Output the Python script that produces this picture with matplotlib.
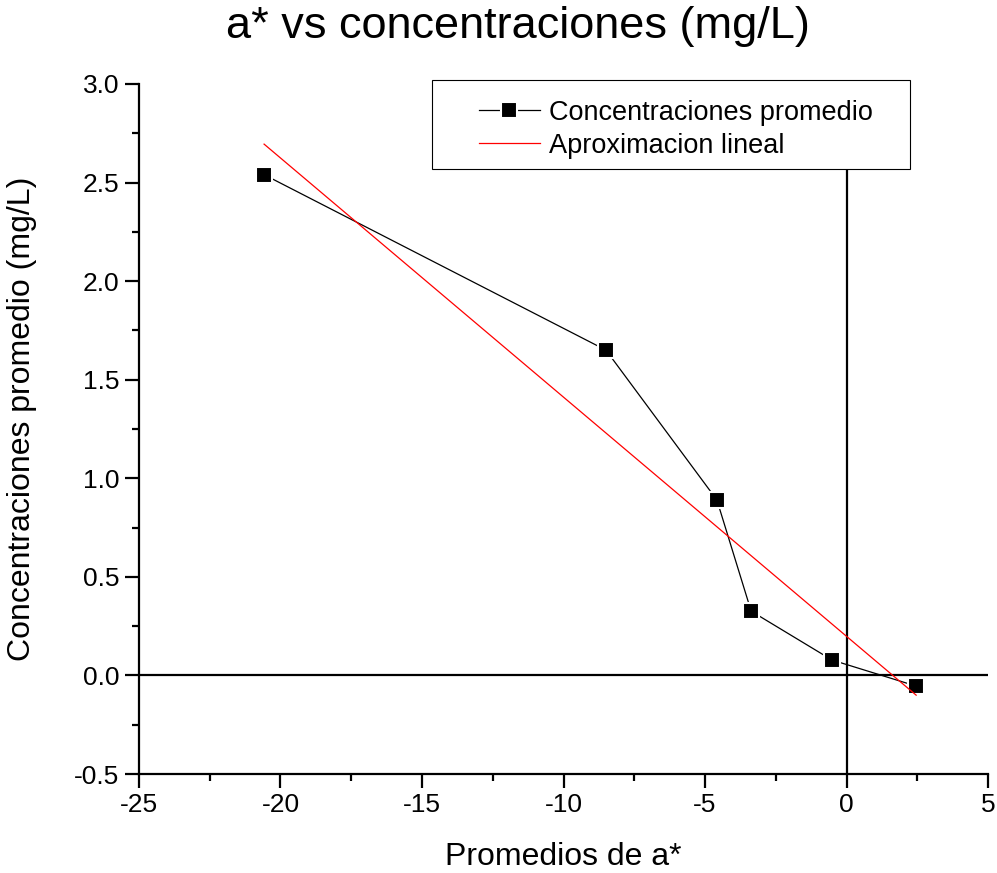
import matplotlib
matplotlib.use("Agg")
import matplotlib.pyplot as plt
from matplotlib.ticker import MultipleLocator, FormatStrFormatter
from matplotlib.patches import Rectangle

plt.rcParams['font.family'] = ['Liberation Sans', 'DejaVu Sans']
plt.rcParams['axes.unicode_minus'] = False

# datos
a_prom = [-20.58, -8.5, -4.58, -3.37, -0.51, 2.46]
conc_prom = [2.54, 1.65, 0.89, 0.326, 0.078, -0.054]

# aproximacion lineal (extremos)
ajuste_x = [-20.58, 2.46]
ajuste_y = [2.695, -0.10]

fig = plt.figure(figsize=(9.97, 8.73), dpi=100)
ax = fig.add_axes([0.1394, 0.1134, 0.9910 - 0.1394, 0.9038 - 0.1134])

ax.axhline(0, color='black', lw=1.6, zorder=1)
ax.axvline(0, color='black', lw=1.6, zorder=1)

ax.plot(a_prom, conc_prom, color='black', lw=0.9, marker='s', markersize=12,
        markerfacecolor='black', markeredgecolor='white', markeredgewidth=1.5,
        label='Concentraciones promedio', zorder=2)
ax.plot(ajuste_x, ajuste_y, color='red', lw=0.9, label='Aproximacion lineal', zorder=3)

ax.set_xlim(-25, 5)
ax.set_ylim(-0.5, 3.0)
ax.xaxis.set_major_locator(MultipleLocator(5))
ax.xaxis.set_minor_locator(MultipleLocator(2.5))
ax.yaxis.set_major_locator(MultipleLocator(0.5))
ax.yaxis.set_minor_locator(MultipleLocator(0.25))
ax.yaxis.set_major_formatter(FormatStrFormatter('%.1f'))

for s in ['top', 'right']:
    ax.spines[s].set_visible(False)
for s in ['left', 'bottom']:
    ax.spines[s].set_linewidth(1.6)
ax.tick_params(which='major', direction='out', length=10, width=1.6, labelsize=19, pad=4)
ax.tick_params(which='minor', direction='out', length=5, width=1.6)

ax.set_xlabel('Promedios de a*', fontsize=23, labelpad=18)
ax.set_ylabel('Concentraciones promedio (mg/L)', fontsize=23, labelpad=28)
ax.yaxis.set_label_coords(-0.1205, 0.515)
fig.text(0.519, 0.970, 'a* vs concentraciones (mg/L)', fontsize=32.5,
         ha='center', va='center')

# marco de la leyenda (mas ancho que el contenido, como en Origin)
ax.add_patch(Rectangle((0.345, 0.8768), 0.563, 0.129, transform=ax.transAxes,
                       facecolor='white', edgecolor='black', lw=0.8,
                       zorder=4, clip_on=False))
leg = ax.legend(loc='upper left', bbox_to_anchor=(0.4005, 0.977), fontsize=19.5,
                frameon=False, borderpad=0, handlelength=2.25,
                handletextpad=0.33, labelspacing=0.25, borderaxespad=0)
leg.set_zorder(5)

fig.savefig('out.png', dpi=100)
